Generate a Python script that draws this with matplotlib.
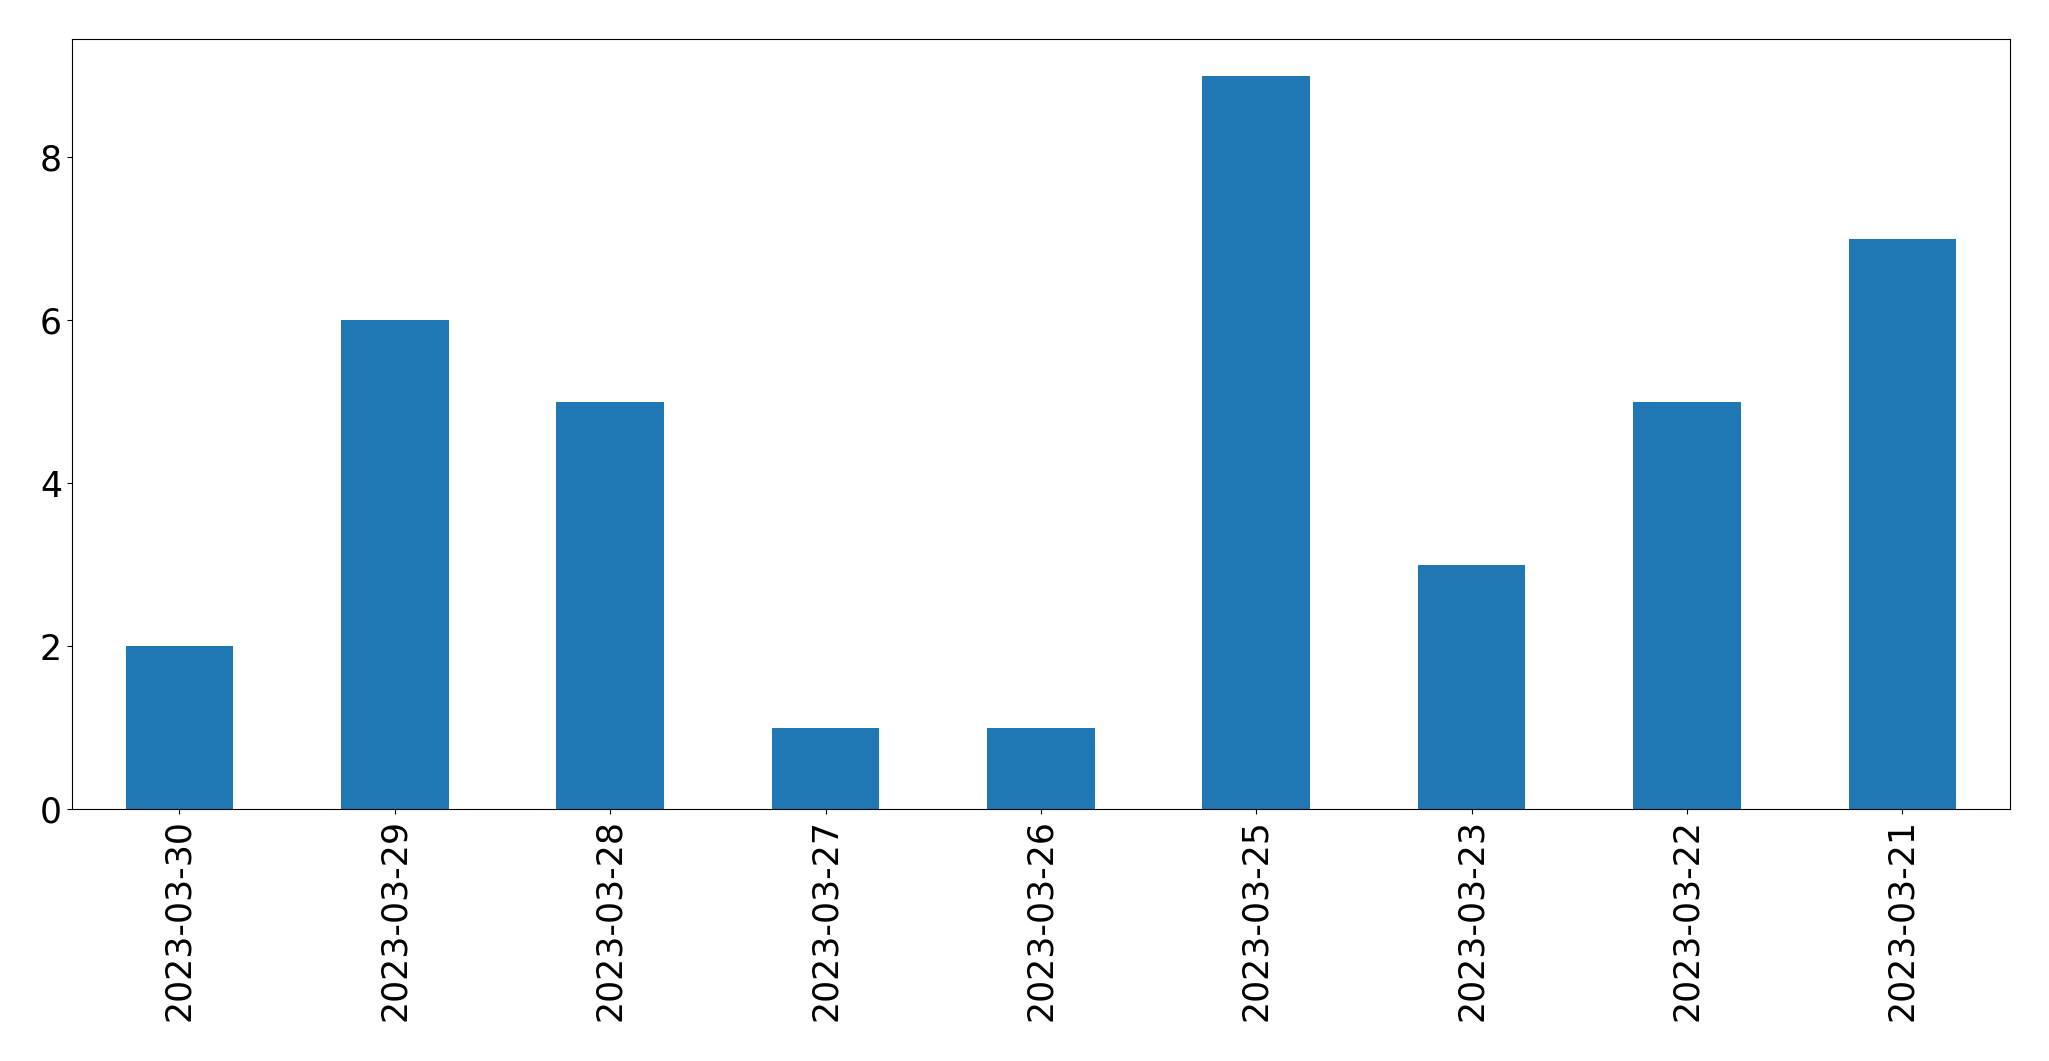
import pandas as pd
import matplotlib
matplotlib.use("Agg")
import matplotlib.pyplot as plt

# daily counts, as shown (newest first)
dates = ["2023-03-30", "2023-03-29", "2023-03-28", "2023-03-27", "2023-03-26",
         "2023-03-25", "2023-03-23", "2023-03-22", "2023-03-21"]
counts = [2, 6, 5, 1, 1, 9, 3, 5, 7]

s = pd.Series(counts, index=dates)

fig, ax = plt.subplots(figsize=(20.49, 10.61), dpi=100)
s.plot(kind="bar", ax=ax, color="#1f77b4")
ax.tick_params(axis="both", labelsize=25)
plt.subplots_adjust(left=0.035, right=0.981, top=0.963, bottom=0.2375)
fig.savefig("out.png", dpi=100)
